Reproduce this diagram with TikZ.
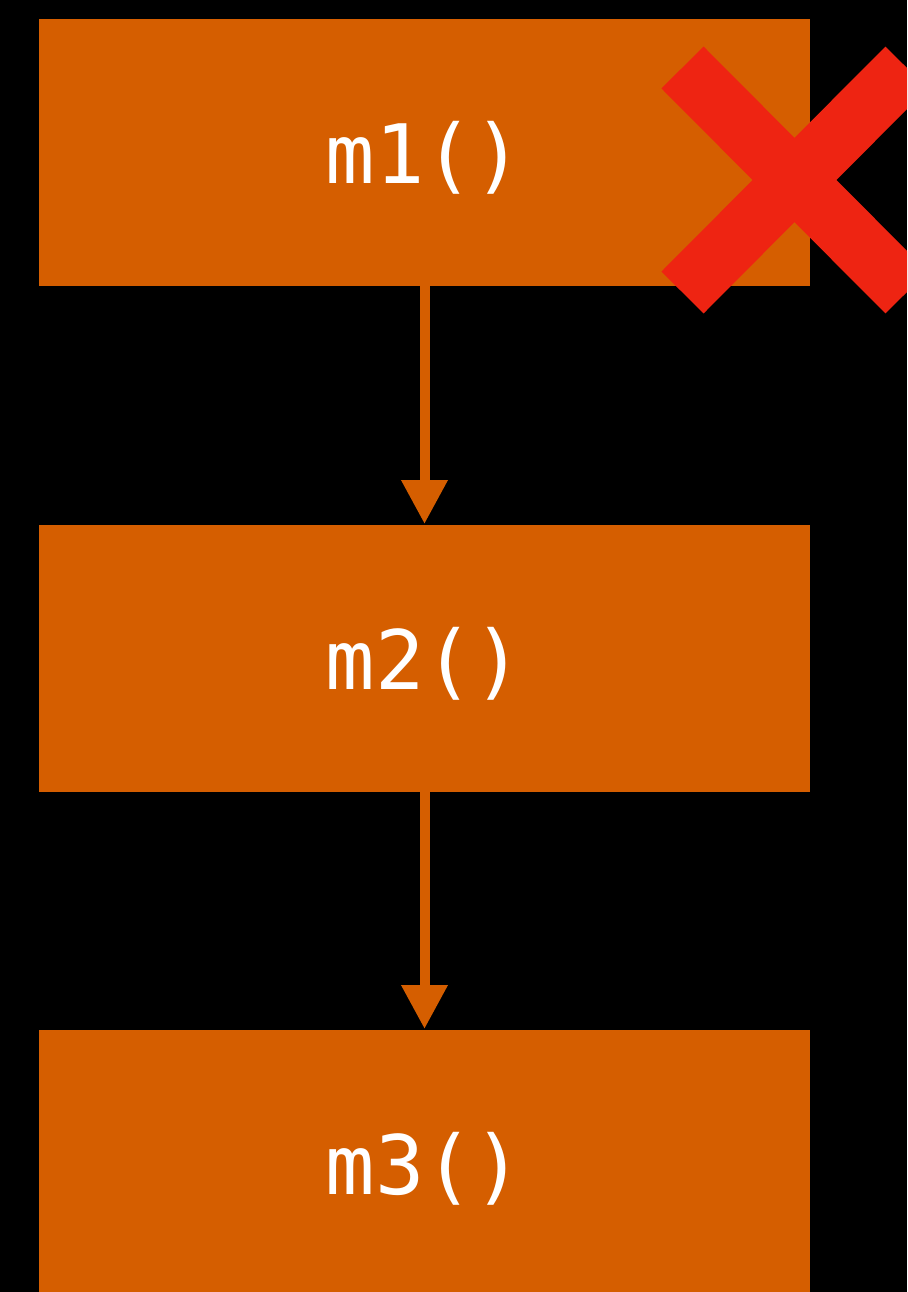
\documentclass[tikz,border=0pt]{standalone}
\usepackage{fontspec}
\newfontfamily\codefont{DejaVu Sans Mono}
\usetikzlibrary{arrows.meta}
\definecolor{boxor}{HTML}{D55E00}
\definecolor{xred}{HTML}{EE2412}
\tikzset{
  callbox/.style={fill=boxor, minimum width=771pt, minimum height=267pt,
    inner sep=0pt, outer sep=0pt, text=white,
    font=\codefont\fontsize{82}{82}\selectfont, text height=61pt, text depth=0pt},
  flow/.style={draw=boxor, line width=10pt, -{Triangle[width=44pt,length=44pt]}, shorten >=1pt},
  crossbar/.style={draw=xred, line width=59.4pt}
}
\begin{document}
\begin{tikzpicture}[x=1pt,y=-1pt]
\fill[black] (0,0) rectangle (907,1292);
\useasboundingbox (0,0) rectangle (907,1292);
\clip (0,0) rectangle (907,1292);
\node[callbox] (m1) at (424.5,152.5) {m1()};
\node[callbox] (m2) at (424.5,658.5) {m2()};
\node[callbox] (m3) at (424.5,1163.5) {m3()};
\draw[flow] (m1.south) -- (m2.north);
\draw[flow] (m2.south) -- (m3.north);
\coordinate (xc) at (794.5,180);
\draw[crossbar] ([shift={(-112,-112.5)}]xc) -- ([shift={(112,112.5)}]xc);
\draw[crossbar] ([shift={(112,-112.5)}]xc) -- ([shift={(-112,112.5)}]xc);
\end{tikzpicture}
\end{document}
